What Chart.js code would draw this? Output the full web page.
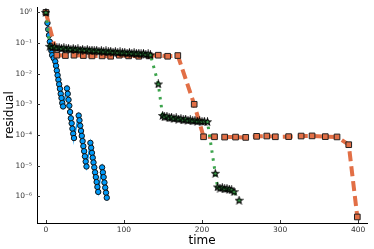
<!DOCTYPE html>
<html>
<head>
<meta charset="utf-8">
<script src="https://cdn.jsdelivr.net/npm/chart.js@4.4.0/dist/chart.umd.min.js"></script>
<style>
html, body { margin: 0; padding: 0; background: #fff; }
</style>
</head>
<body>
<canvas id="mycanvas" width="374" height="249"></canvas>
<script>
var xTicks = [0, 100, 200, 300, 400];
var yTicks = [1, 1e-1, 1e-2, 1e-3, 1e-4, 1e-5, 1e-6];

// series 1 (blue, circles)
var blueTime = [0, 2, 3, 4, 5, 6, 7, 8, 10, 12, 13, 14, 15, 16, 17, 18, 19, 20, 21, 22,
  27, 28, 29, 30, 31, 32, 33, 34, 35, 36,
  42, 43, 44, 45, 46, 47, 48, 49, 50, 51, 52,
  57, 58, 59, 60, 61, 62, 63, 64, 65, 66, 67,
  72, 73, 74, 75, 76, 77, 78];
var blueRes = [1, 0.45, 0.28, 0.18, 0.11, 0.08, 0.056, 0.04, 0.032, 0.025, 0.018, 0.0126, 0.0089, 0.0063, 0.0045, 0.0032, 0.0022, 0.0016, 0.0011, 0.00085,
  0.0033, 0.0022, 0.0014, 0.0009, 0.00056, 0.00035, 0.00024, 0.00016, 0.00011, 0.000079,
  4.3e-4, 3.0e-4, 2.0e-4, 1.35e-4, 9.3e-5, 6.3e-5, 4.3e-5, 2.95e-5, 2.0e-5, 1.35e-5, 9.3e-6,
  5.5e-5, 3.8e-5, 2.6e-5, 1.8e-5, 1.26e-5, 8.7e-6, 6.0e-6, 4.2e-6, 2.9e-6, 2.0e-6, 1.38e-6,
  8.7e-6, 6.0e-6, 4.2e-6, 2.8e-6, 1.9e-6, 1.3e-6, 8.9e-7];

// series 2 (orange, squares)
var orangeTime = [0, 14, 25, 36, 48, 59, 72, 83, 94, 106, 119, 132, 144, 156, 169, 190,
  202, 216, 229, 243, 256, 270, 283, 294, 311, 327, 341, 358, 373, 388, 399];
var orangeRes = [1, 0.04, 0.039, 0.04, 0.039, 0.038, 0.038, 0.037, 0.04, 0.038, 0.037, 0.038, 0.04, 0.037, 0.039, 0.001,
  8.7e-5, 8.7e-5, 8.5e-5, 8.5e-5, 8.3e-5, 9e-5, 9.2e-5, 8.7e-5, 8.8e-5, 9.2e-5, 9.3e-5, 8.8e-5, 8.6e-5, 4.8e-5, 2.1e-7];

// series 3 (green, stars)
var greenTime = [0, 5, 8, 11, 14, 17, 20, 23, 26, 29, 32, 35, 38, 41, 44, 47, 50, 53, 56, 59, 62, 65, 68, 71,
  74, 77, 80, 83, 86, 89, 92, 95, 98, 101, 104, 107, 110, 113, 116, 119, 122, 125, 128, 131, 134,
  144, 149.5, 152, 155, 158, 161, 164, 167, 170, 173, 176, 179, 182, 185, 188, 191, 194, 197, 200, 203, 207,
  217, 220, 223, 226, 229, 232, 235, 238, 241, 247.5];
var greenRes = [1, 0.078, 0.072, 0.075, 0.069, 0.071, 0.066, 0.070, 0.064, 0.067, 0.062, 0.066, 0.061, 0.064, 0.059, 0.062, 0.058, 0.061, 0.056, 0.059, 0.055, 0.058, 0.054, 0.056,
  0.052, 0.055, 0.051, 0.054, 0.050, 0.052, 0.049, 0.051, 0.048, 0.050, 0.047, 0.049, 0.046, 0.048, 0.045, 0.047, 0.044, 0.046, 0.043, 0.044, 0.041,
  0.0046, 4.3e-4, 3.9e-4, 4.1e-4, 3.6e-4, 3.8e-4, 3.4e-4, 3.6e-4, 3.3e-4, 3.4e-4, 3.1e-4, 3.3e-4, 3.0e-4, 3.1e-4, 2.9e-4, 3.0e-4, 2.8e-4, 2.9e-4, 2.75e-4, 2.8e-4, 2.7e-4,
  5.6e-6, 2.0e-6, 1.85e-6, 1.9e-6, 1.75e-6, 1.8e-6, 1.7e-6, 1.6e-6, 1.4e-6, 7.4e-7];

function pairs(xs, ys) {
  var out = [];
  for (var i = 0; i < xs.length; i++) out.push({x: xs[i], y: ys[i]});
  return out;
}

function starMarker() {
  var c = document.createElement('canvas');
  c.width = 9; c.height = 9;
  var g = c.getContext('2d');
  g.beginPath();
  for (var i = 0; i < 10; i++) {
    var r = (i % 2 == 0) ? 3.6 : 1.5;
    var a = -Math.PI / 2 + i * Math.PI / 5;
    var px = 4.5 + r * Math.cos(a), py = 4.8 + r * Math.sin(a);
    if (i == 0) g.moveTo(px, py); else g.lineTo(px, py);
  }
  g.closePath();
  g.fillStyle = '#3da44d';
  g.fill();
  g.strokeStyle = '#000';
  g.lineWidth = 1.1;
  g.stroke();
  return c;
}

var sup = {'0':'⁰','1':'¹','2':'²','3':'³','4':'⁴','5':'⁵','6':'⁶','7':'⁷','8':'⁸','9':'⁹','-':'⁻'};
function powLabel(v) {
  var e = String(Math.round(Math.log10(v)));
  var s = '';
  for (var i = 0; i < e.length; i++) s += sup[e[i]];
  return '10' + s;
}

var innerTicks = {
  id: 'innerTicks',
  afterDraw: function(chart) {
    var ctx = chart.ctx, a = chart.chartArea;
    var xs = chart.scales.x, ys = chart.scales.y;
    ctx.save();
    ctx.strokeStyle = '#333';
    ctx.lineWidth = 1;
    ctx.beginPath();
    xs.ticks.forEach(function(t) {
      var px = Math.round(xs.getPixelForValue(t.value)) + 0.5;
      ctx.moveTo(px, a.bottom);
      ctx.lineTo(px, a.bottom - 3);
    });
    ys.ticks.forEach(function(t) {
      var py = Math.round(ys.getPixelForValue(t.value)) + 0.5;
      ctx.moveTo(a.left, py);
      ctx.lineTo(a.left + 3, py);
    });
    ctx.stroke();
    ctx.restore();
  }
};

var ctx = document.getElementById('mycanvas');
var chart = new Chart(ctx, {
  type: 'line',
  data: {
    datasets: [
      {
        data: pairs(blueTime, blueRes),
        borderColor: '#009af9',
        borderWidth: 1.5,
        pointRadius: 2.7,
        pointBackgroundColor: '#009af9',
        pointBorderColor: '#111',
        pointBorderWidth: 1,
        order: 3
      },
      {
        data: pairs(orangeTime, orangeRes),
        borderColor: '#e26f46',
        borderWidth: 4,
        borderDash: [10, 5],
        pointStyle: 'rect',
        pointRadius: 4,
        pointBackgroundColor: '#e26f46',
        pointBorderColor: '#222',
        pointBorderWidth: 1,
        order: 2
      },
      {
        data: pairs(greenTime, greenRes),
        borderColor: '#3da44d',
        borderWidth: 3,
        borderDash: [2.5, 5.5],
        pointStyle: starMarker(),
        pointRadius: 4,
        order: 1
      }
    ]
  },
  options: {
    responsive: false,
    animation: false,
    devicePixelRatio: 1,
    layout: { padding: { top: 2, right: 3, left: 0, bottom: 0 } },
    plugins: { legend: { display: false }, tooltip: { enabled: false } },
    scales: {
      x: {
        type: 'linear',
        min: -11.4,
        max: 411.4,
        afterBuildTicks: function(s) { s.ticks = xTicks.map(function(v) { return {value: v}; }); },
        afterFit: function(s) { s.height = 26; s.paddingLeft = 0; s.paddingRight = 0; },
        grid: { display: false, drawTicks: false },
        border: { display: true, color: '#000', width: 1 },
        ticks: { padding: 3, color: '#333', font: { family: 'DejaVu Sans', size: 7.5 }, maxRotation: 0 },
        title: { display: true, text: 'time', color: '#000', font: { family: 'DejaVu Sans', size: 12 }, padding: { top: 0, bottom: 1 } }
      },
      y: {
        type: 'logarithmic',
        min: Math.pow(10, -6.875),
        max: Math.pow(10, 0.176),
        afterBuildTicks: function(s) { s.ticks = yTicks.map(function(v) { return {value: v}; }); },
        afterFit: function(s) { s.width = 37; s.paddingTop = 0; s.paddingBottom = 0; },
        grid: { display: false, drawTicks: false },
        border: { display: true, color: '#000', width: 1 },
        ticks: { padding: 5, color: '#333', font: { family: 'DejaVu Sans', size: 7.5 }, callback: function(v) { return powLabel(v); } },
        title: { display: true, text: 'residual', color: '#000', font: { family: 'DejaVu Sans', size: 12 }, padding: { top: 2.5, bottom: 0 } }
      }
    }
  },
  plugins: [innerTicks]
});
</script>
</body>
</html>
